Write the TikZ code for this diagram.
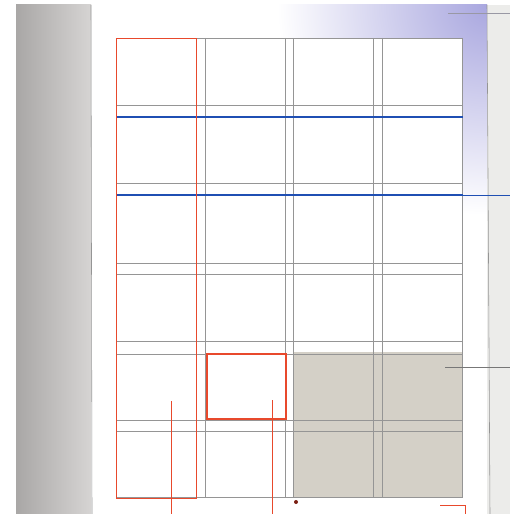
\documentclass[tikz,border=0pt]{standalone}
\usepackage{xcolor}
\usetikzlibrary{calc}
\definecolor{gridRed}{HTML}{E8492C}
\definecolor{gridBlue}{HTML}{1F4FB3}
\definecolor{gridGuide}{HTML}{959595}
\definecolor{gridFill}{HTML}{D4D0C7}
\definecolor{spineDark}{HTML}{A9A7A6}
\definecolor{spineLight}{HTML}{D6D4D3}
\definecolor{pageTint}{HTML}{A9A7DF}
\definecolor{stripGray}{HTML}{ECECEA}
\definecolor{dotRed}{HTML}{7A1E12}

\begin{document}
\begin{tikzpicture}[x=0.05cm,y=-0.05cm]
  \tikzset{guide/.style={draw=gridGuide,line width=.6pt},
           redrule/.style={draw=gridRed,line width=1.1pt},
           bluerule/.style={draw=gridBlue,line width=1.6pt}}
  \useasboundingbox (0,0) rectangle (510,514);
  \fill[white] (0,0) rectangle (510,514);
  % spine and page edges
  \shade[left color=spineDark,right color=spineLight] (16,5) rectangle (91,514);
  \begin{scope}
    \clip (92,5) rectangle (487,514);
    \shade[inner color=pageTint,outer color=white] (487,5) circle (210);
  \end{scope}
  \draw[gridGuide,line width=.8pt] (91,5) -- (92,514);
  \fill[stripGray] (487,5) rectangle (510,514);
  \draw[gridGuide,line width=.8pt] (487,5) -- (490,514);
  \draw[gridGuide!80!pageTint,line width=.6pt] (448,13) -- (510,13);
  % type area and shaded block
  \fill[white] (116.5,38) rectangle (462.5,498.5);
  \fill[gridFill] (293.5,352) rectangle (462.5,497);
  % column guides
  \foreach \xa in {205,293.5,382}
    \draw[guide] (\xa,38) -- (\xa,497) (\xa+80,38) -- (\xa+80,497);
  % row guides
  \foreach \ya in {38,105,117,183,195,263,274,341,354,420,431,497}
    \draw[guide] (116.5,\ya) -- (462.5,\ya);
  % baseline rules
  \draw[bluerule] (116.5,117) -- (462.5,117);
  \draw[bluerule] (116.5,195) -- (462.5,195);
  \draw[gridBlue,line width=.6pt] (462.5,195) -- (510,195);
  \draw[gridGuide!80!black,line width=.7pt] (445,367) -- (510,367);
  % red marks
  \draw[redrule] (116.5,38) rectangle (196.5,498.5);
  \draw[gridRed,line width=2.2pt] (207,354) rectangle (286,419);
  \draw[redrule] (171,401) -- (171,514);
  \draw[redrule] (272,400) -- (272,514);
  \draw[redrule] (440,505) -- (465,505) -- (465,514);
  \fill[dotRed] (296,502) circle (2);
\end{tikzpicture}
\end{document}
